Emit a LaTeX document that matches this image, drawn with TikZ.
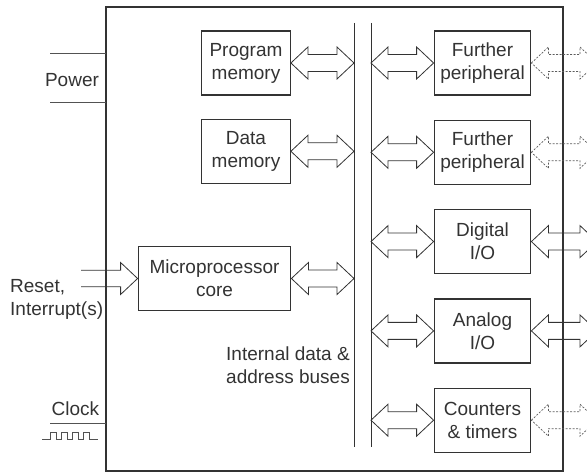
\documentclass[tikz,border=0pt]{standalone}
\usepackage{fontspec}
\setmainfont{Liberation Sans}
\usetikzlibrary{calc,positioning}
\definecolor{ink}{gray}{0.2}

% double block arrow between two points on one level
\newcommand{\busarrow}[3][]{%
  \draw[busline,#1] let \p1=#2, \p2=#3 in
    (\x1,\y1) -- (\x1+17pt,\y1+16pt) -- (\x1+17pt,\y1+8.5pt) -- (\x2-17pt,\y1+8.5pt)
    -- (\x2-17pt,\y1+16pt) -- (\x2,\y1) -- (\x2-17pt,\y1-16pt) -- (\x2-17pt,\y1-8.5pt)
    -- (\x1+17pt,\y1-8.5pt) -- (\x1+17pt,\y1-16pt) -- cycle;}

\begin{document}
\begin{tikzpicture}[x=1pt,y=-1pt,
    txt/.style={text=ink,font=\fontsize{19}{23}\selectfont,align=center,inner sep=0pt},
    box/.style={txt,draw=ink,line width=1.3pt,minimum width=88.5pt,minimum height=64pt},
    wide/.style={minimum width=96.5pt},
    busline/.style={draw=ink,line width=0.8pt},
    ext/.style={busline,dash pattern=on 2pt off 1.5pt,line width=0.7pt,draw=ink!80},
    wire/.style={draw=ink!85,line width=1pt}]
  \useasboundingbox (0,0) rectangle (587,473);
  \coordinate (chipNW) at (106,7);
  \coordinate (chipSE) at (563,471);
  \draw[draw=ink,line width=1.4pt] (chipNW) rectangle (chipSE);

  % buses
  \coordinate (busL) at (354,23);
  \coordinate (busR) at (371,23);
  \draw[busline] (busL) -- ++(0,424);
  \draw[busline] (busR) -- ++(0,424);
  \node[txt] (buses) at (288,365) {Internal data \&\\address buses};

  % left blocks
  \node[box] (pm) at (246,63) {Program\\memory};
  \node[box, below=23pt of pm] (dm) {Data\\memory};
  \node[box, minimum width=152.5pt] (core) at (214.5,278.5) {Microprocessor\\core};

  % right blocks
  \node[box, wide] (fp1) at (482.5,63) {Further\\peripheral};
  \node[box, wide, below=24pt of fp1] (fp2) {Further\\peripheral};
  \node[box, wide, below=24pt of fp2] (dio) {Digital\\I/O};
  \node[box, wide, below=24pt of dio] (aio) {Analog\\I/O};
  \node[box, wide, below=24pt of aio] (ct) {Counters\\\& timers};

  \busarrow{(pm.east)}{(pm.east -| busL)}
  \busarrow{(dm.east)}{(dm.east -| busL)}
  \busarrow{(core.east)}{(core.east -| busL)}
  \foreach \b in {fp1,fp2,dio,aio,ct}
    \busarrow{(\b.west -| busR)}{(\b.west)};

  % pins leaving the chip
  \coordinate (pinR) at (597,0);
  \busarrow[ext]{(fp1.east)}{(fp1.east -| pinR)}
  \busarrow[ext]{(fp2.east)}{(fp2.east -| pinR)}
  \busarrow{(dio.east)}{(dio.east -| pinR)}
  \busarrow{(aio.east)}{(aio.east -| pinR)}
  \busarrow[ext]{(ct.east)}{(ct.east -| pinR)}

  % power
  \node[txt] (power) at (72,80) {Power};
  \draw[wire] (50,54) -- (50,54 -| chipNW);
  \draw[wire] (50,103) -- (50,103 -| chipNW);

  % reset
  \node[txt, align=left, anchor=west] (reset) at (10,299) {Reset,\\Interrupt(s)};
  \draw[busline] let \p1=(core.west) in
    (\x1-56.5pt,\y1+8.3pt) -- (\x1-17pt,\y1+8.3pt) -- (\x1-17pt,\y1+16pt) -- (\x1,\y1)
    -- (\x1-17pt,\y1-16pt) -- (\x1-17pt,\y1-8.3pt) -- (\x1-56.5pt,\y1-8.3pt);

  % clock
  \node[txt] (clock) at (75.5,409) {Clock};
  \draw[wire] (50,423.3) -- (50,423.3 -| chipNW);
  \draw[wire,line width=0.8pt] (42,439) -| (50,432.5) -| (56,439) -| (61,432.5) -| (67,439)
    -| (72,432.5) -| (78,439) -| (83,432.5) -| (89,439) -- (98,439);
\end{tikzpicture}
\end{document}
